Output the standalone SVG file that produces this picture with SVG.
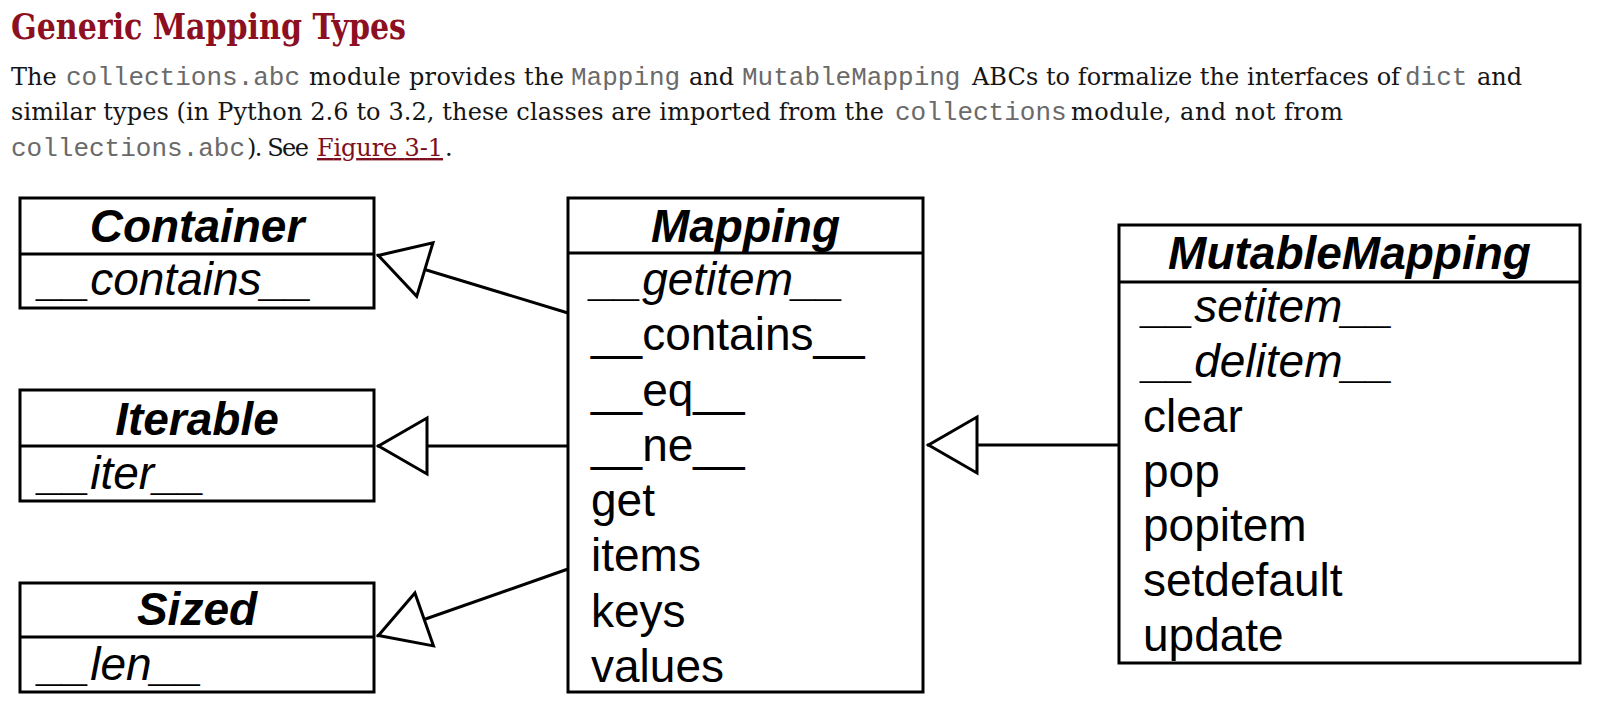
<svg xmlns="http://www.w3.org/2000/svg" width="1604" height="705" viewBox="0 0 1604 705">
<style>
.bg{fill:#fff}
.h{font-family:"DejaVu Serif","Liberation Serif",serif;font-weight:bold;font-size:35px;fill:#8c0f22}
.p{font-family:"DejaVu Serif","Liberation Serif",serif;font-size:24px;fill:#151515}
.m{font-family:"Liberation Mono","DejaVu Sans Mono",monospace;font-size:26px;fill:#6a6a6a}
.lnk{fill:#7d1020;text-decoration:underline}
.box{fill:#fff;stroke:#000;stroke-width:3}
.div{stroke:#000;stroke-width:3}
.t{font-family:"Liberation Sans",Arial,sans-serif;font-size:46px;font-weight:bold;font-style:italic;fill:#000;text-anchor:middle}
.a{font-family:"Liberation Sans",Arial,sans-serif;font-size:46px;font-style:italic;fill:#000}
.c{font-family:"Liberation Sans",Arial,sans-serif;font-size:46px;fill:#000}
.edge{fill:none;stroke:#000;stroke-width:3;marker-end:url(#tri)}
</style>
<defs>
<marker id="tri" markerUnits="userSpaceOnUse" markerWidth="70" markerHeight="70" viewBox="-60 -35 70 70" refX="0" refY="0" orient="auto" overflow="visible">
<path d="M-1.5,0 L-50,-28 L-50,28 Z" fill="#fff" stroke="#000" stroke-width="3" stroke-linejoin="miter"/>
</marker>
</defs>
<rect class="bg" x="0" y="0" width="1604" height="705"/>

<g id="header">
<text class="h" x="11" y="39" textLength="395" lengthAdjust="spacingAndGlyphs">Generic Mapping Types</text>
<text class="p" y="85"><tspan x="11">The</tspan><tspan class="m" x="66">collections.abc</tspan><tspan x="309" textLength="255" lengthAdjust="spacing">module provides the</tspan><tspan class="m" x="571">Mapping</tspan><tspan x="689">and</tspan><tspan class="m" x="742">MutableMapping</tspan><tspan x="972" textLength="428" lengthAdjust="spacing">ABCs to formalize the interfaces of</tspan><tspan class="m" x="1405">dict</tspan><tspan x="1477">and</tspan></text>
<text class="p" y="120"><tspan x="11" textLength="873" lengthAdjust="spacing">similar types (in Python 2.6 to 3.2, these classes are imported from the</tspan><tspan class="m" x="895">collections</tspan><tspan x="1071" textLength="272" lengthAdjust="spacing">module, and not from</tspan></text>
<text class="p" y="156"><tspan class="m" x="11">collections.abc</tspan><tspan x="247" textLength="62" lengthAdjust="spacing">). See</tspan><tspan class="lnk" x="317" textLength="126" lengthAdjust="spacing">Figure 3-1</tspan><tspan x="445">.</tspan></text>
</g>

<g id="container">
<rect class="box" x="20" y="198" width="354" height="110"/>
<line class="div" x1="20" y1="254" x2="374" y2="254"/>
<text class="t" x="197" y="242">Container</text>
<text class="a" x="39" y="295">__contains__</text>
</g>

<g id="iterable">
<rect class="box" x="20" y="390" width="354" height="111"/>
<line class="div" x1="20" y1="446" x2="374" y2="446"/>
<text class="t" x="197" y="435">Iterable</text>
<text class="a" x="39" y="489">__iter__</text>
</g>

<g id="sized">
<rect class="box" x="20" y="583" width="354" height="109"/>
<line class="div" x1="20" y1="637" x2="374" y2="637"/>
<text class="t" x="197" y="625">Sized</text>
<text class="a" x="39" y="680">__len__</text>
</g>

<g id="mapping">
<rect class="box" x="568" y="198" width="355" height="494"/>
<line class="div" x1="568" y1="253" x2="923" y2="253"/>
<text class="t" x="745.5" y="242">Mapping</text>
<text class="a" x="591" y="295">__getitem__</text>
<text class="c" x="591" y="350">__contains__</text>
<text class="c" x="591" y="406">__eq__</text>
<text class="c" x="591" y="461">__ne__</text>
<text class="c" x="591" y="516">get</text>
<text class="c" x="591" y="571">items</text>
<text class="c" x="591" y="627">keys</text>
<text class="c" x="591" y="682">values</text>
</g>

<g id="mutablemapping">
<rect class="box" x="1119" y="225" width="461" height="438"/>
<line class="div" x1="1119" y1="282" x2="1580" y2="282"/>
<text class="t" x="1349.5" y="269">MutableMapping</text>
<text class="a" x="1143" y="322">__setitem__</text>
<text class="a" x="1143" y="377">__delitem__</text>
<text class="c" x="1143" y="432">clear</text>
<text class="c" x="1143" y="487">pop</text>
<text class="c" x="1143" y="541">popitem</text>
<text class="c" x="1143" y="596">setdefault</text>
<text class="c" x="1143" y="651">update</text>
</g>

<g id="connectors">
<path class="edge" d="M568,313 L377,255"/>
<path class="edge" d="M568,446 L377,446"/>
<path class="edge" d="M568,569 L377,636"/>
<path class="edge" d="M1119,445 L927,445"/>
</g>
</svg>
